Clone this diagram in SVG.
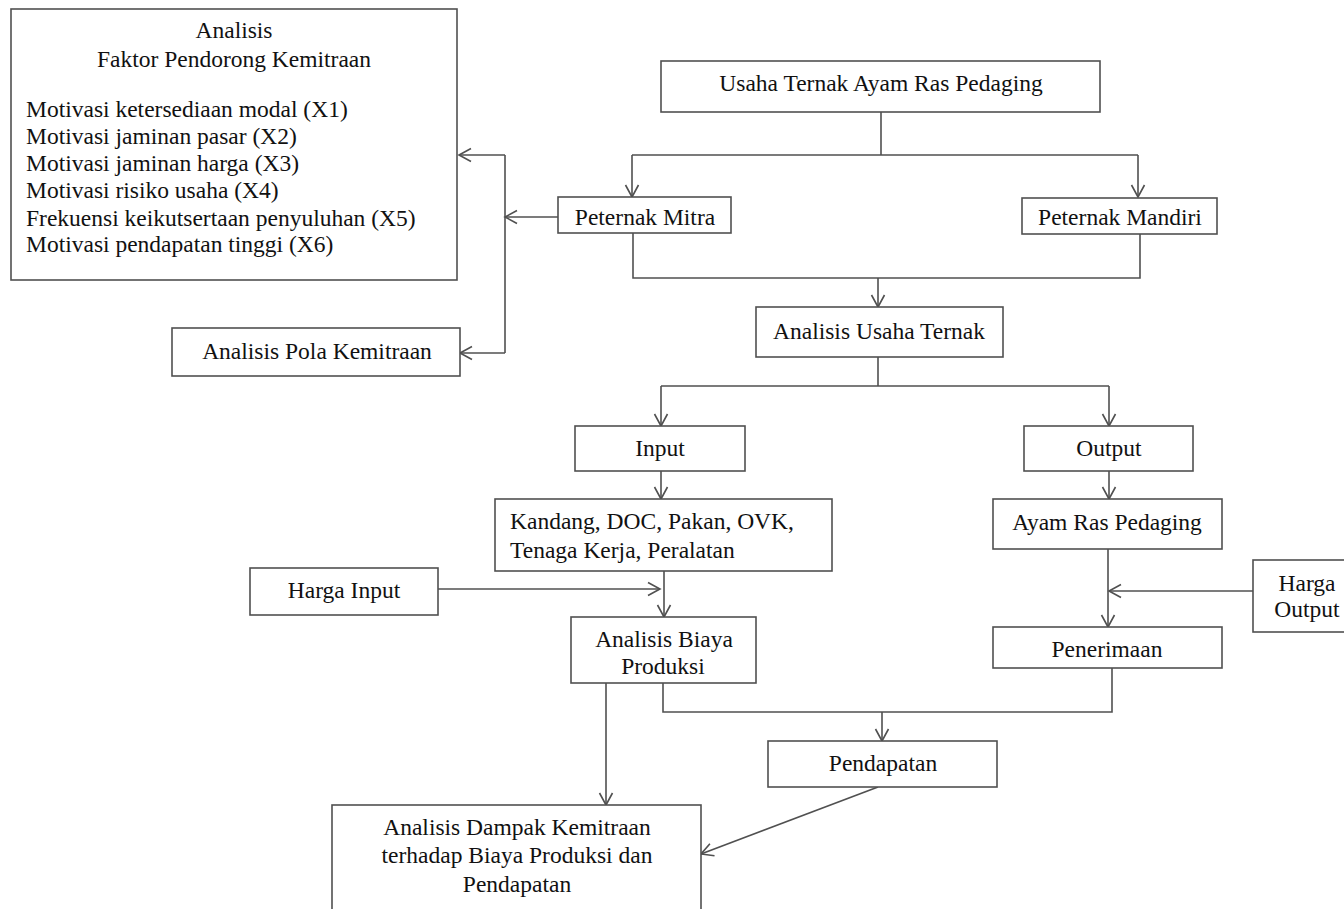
<svg xmlns="http://www.w3.org/2000/svg" width="1344" height="909" viewBox="0 0 1344 909">
<style>
.box{fill:#fff;stroke:#505050;stroke-width:1.6}
.t{font-family:'Liberation Serif',Tinos,'Times New Roman',Times,'DejaVu Serif',serif;font-size:23.5px;fill:#111}
.c{text-anchor:middle}
.ln{fill:none;stroke:#505050;stroke-width:1.6}
</style>
<defs>
<marker id="arr" markerUnits="userSpaceOnUse" markerWidth="16" markerHeight="16" refX="13" refY="7" orient="auto" overflow="visible">
<path d="M1,0.5 L13,7 L1,13.5" fill="none" stroke="#505050" stroke-width="1.6"/>
</marker>
</defs>
<rect width="1344" height="909" fill="#fff"/>
<g id="connectors">
<path class="ln" d="M881,112 V155 M632,155 H1138"/>
<path class="ln" d="M632,155 V197" marker-end="url(#arr)"/>
<path class="ln" d="M1138,155 V197" marker-end="url(#arr)"/>
<path class="ln" d="M558,217 H505" marker-end="url(#arr)"/>
<path class="ln" d="M505,155 V353"/>
<path class="ln" d="M505,155 H459" marker-end="url(#arr)"/>
<path class="ln" d="M505,353 H460" marker-end="url(#arr)"/>
<path class="ln" d="M633,233 V278 H1140 V234"/>
<path class="ln" d="M878,278 V307" marker-end="url(#arr)"/>
<path class="ln" d="M878,357 V386 M661,386 H1109"/>
<path class="ln" d="M661,386 V426" marker-end="url(#arr)"/>
<path class="ln" d="M1109,386 V426" marker-end="url(#arr)"/>
<path class="ln" d="M661,471 V499" marker-end="url(#arr)"/>
<path class="ln" d="M1109,471 V499" marker-end="url(#arr)"/>
<path class="ln" d="M664,571 V617" marker-end="url(#arr)"/>
<path class="ln" d="M438,589 H660" marker-end="url(#arr)"/>
<path class="ln" d="M1108,549 V627" marker-end="url(#arr)"/>
<path class="ln" d="M1253,591 H1109" marker-end="url(#arr)"/>
<path class="ln" d="M1112,668 V712 H663 V683"/>
<path class="ln" d="M882,712 V741" marker-end="url(#arr)"/>
<path class="ln" d="M606,683 V805" marker-end="url(#arr)"/>
<path class="ln" d="M878,787 L701,854" marker-end="url(#arr)"/>
</g>
<g id="faktor">
<rect class="box" x="11" y="9" width="446" height="271"/>
<text class="t c" x="234" y="38">Analisis</text>
<text class="t c" x="234" y="67">Faktor Pendorong Kemitraan</text>
<text class="t" x="26" y="117">Motivasi ketersediaan modal (X1)</text>
<text class="t" x="26" y="144">Motivasi jaminan pasar (X2)</text>
<text class="t" x="26" y="171">Motivasi jaminan harga (X3)</text>
<text class="t" x="26" y="198">Motivasi risiko usaha (X4)</text>
<text class="t" x="26" y="226">Frekuensi keikutsertaan penyuluhan (X5)</text>
<text class="t" x="26" y="252">Motivasi pendapatan tinggi (X6)</text>
</g>
<g id="pola">
<rect class="box" x="172" y="328" width="288" height="48"/>
<text class="t c" x="317" y="359">Analisis Pola Kemitraan</text>
</g>
<g id="usaha">
<rect class="box" x="661" y="61" width="439" height="51"/>
<text class="t c" x="881" y="91">Usaha Ternak Ayam Ras Pedaging</text>
</g>
<g id="mitra">
<rect class="box" x="558" y="197" width="173" height="36"/>
<text class="t c" x="645" y="225">Peternak Mitra</text>
</g>
<g id="mandiri">
<rect class="box" x="1022" y="198" width="195" height="36"/>
<text class="t c" x="1120" y="225">Peternak Mandiri</text>
</g>
<g id="analisis-usaha">
<rect class="box" x="756" y="307" width="247" height="50"/>
<text class="t c" x="879" y="339">Analisis Usaha Ternak</text>
</g>
<g id="input">
<rect class="box" x="575" y="426" width="170" height="45"/>
<text class="t c" x="660" y="456">Input</text>
</g>
<g id="output">
<rect class="box" x="1024" y="426" width="169" height="45"/>
<text class="t c" x="1109" y="456">Output</text>
</g>
<g id="kandang">
<rect class="box" x="495" y="499" width="337" height="72"/>
<text class="t" x="510" y="529">Kandang, DOC, Pakan, OVK,</text>
<text class="t" x="510" y="558">Tenaga Kerja, Peralatan</text>
</g>
<g id="ayam">
<rect class="box" x="993" y="499" width="229" height="50"/>
<text class="t c" x="1107" y="530">Ayam Ras Pedaging</text>
</g>
<g id="harga-input">
<rect class="box" x="250" y="568" width="188" height="47"/>
<text class="t c" x="344" y="598">Harga Input</text>
</g>
<g id="biaya">
<rect class="box" x="571" y="617" width="185" height="66"/>
<text class="t c" x="664" y="647">Analisis Biaya</text>
<text class="t c" x="663" y="674">Produksi</text>
</g>
<g id="harga-output">
<rect class="box" x="1253" y="560" width="100" height="72"/>
<text class="t c" x="1307" y="591">Harga</text>
<text class="t c" x="1307" y="617">Output</text>
</g>
<g id="penerimaan">
<rect class="box" x="993" y="627" width="229" height="41"/>
<text class="t c" x="1107" y="657">Penerimaan</text>
</g>
<g id="pendapatan">
<rect class="box" x="768" y="741" width="229" height="46"/>
<text class="t c" x="883" y="771">Pendapatan</text>
</g>
<g id="dampak">
<rect class="box" x="332" y="805" width="369" height="120"/>
<text class="t c" x="517" y="835">Analisis Dampak Kemitraan</text>
<text class="t c" x="517" y="863">terhadap Biaya Produksi dan</text>
<text class="t c" x="517" y="892">Pendapatan</text>
</g>
</svg>
